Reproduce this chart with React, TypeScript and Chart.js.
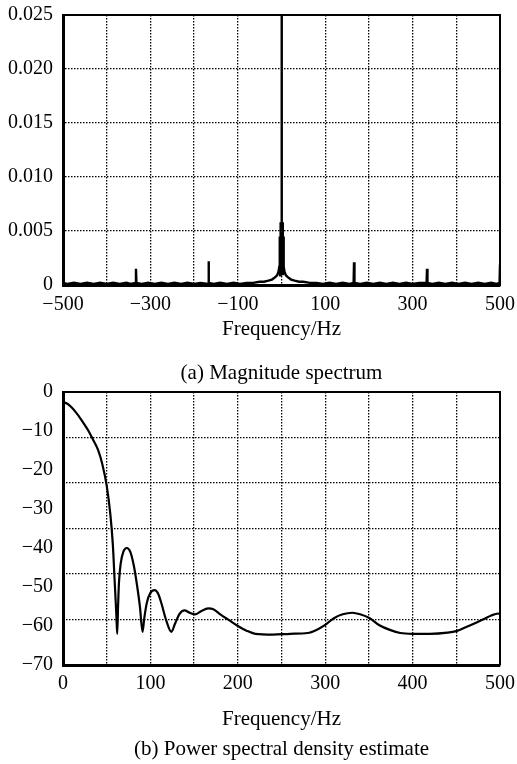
import React, { useEffect, useRef } from "react";
import { Chart, registerables } from "chart.js";

Chart.register(...registerables);

const FONT = "'Liberation Serif', 'Times New Roman', serif";

// (a) Magnitude spectrum: frequency (Hz) and magnitude
const magFreq = [
  -500, -490, -475, -460, -445, -430, -415, -400, -385, -370, -355, -345, -334, -333, -332,
  -320, -305, -290, -275, -260, -245, -230, -215, -200, -185, -168, -167, -166,
  -155, -140, -125, -110, -95, -80, -65, -50, -40, -30, -22, -15, -10, -7, -5, -4, -3, -2, -1,
  0,
  1, 2, 3, 4, 5, 7, 10, 15, 22, 30, 40, 50, 65, 80, 95, 110, 125, 140, 155,
  165, 166, 167, 180, 195, 210, 225, 240, 255, 270, 285, 300, 315, 332, 333, 334,
  345, 360, 375, 390, 405, 420, 435, 450, 465, 480, 492, 499, 500,
];
const magAmp = [
  0.0002, 0.0001, 0.0002, 0.0001, 0.0002, 0.0001, 0.0002, 0.0001, 0.0002, 0.0001, 0.0002, 0.0001, 0.0002, 0.0015, 0.0002,
  0.0001, 0.0002, 0.0001, 0.0002, 0.0001, 0.0002, 0.0001, 0.0002, 0.0001, 0.0002, 0.0001, 0.0022, 0.0002,
  0.0001, 0.0002, 0.0001, 0.0002, 0.0001, 0.0002, 0.0002, 0.0003, 0.0003, 0.0004, 0.0005, 0.0007, 0.0009, 0.0012, 0.0017, 0.0045, 0.0009, 0.0058, 0.0012,
  0.027,
  0.0012, 0.0058, 0.0009, 0.0045, 0.0017, 0.0012, 0.0009, 0.0007, 0.0005, 0.0004, 0.0003, 0.0003, 0.0002, 0.0002, 0.0001, 0.0002, 0.0001, 0.0002, 0.0001,
  0.0002, 0.0021, 0.0002, 0.0001, 0.0002, 0.0001, 0.0002, 0.0001, 0.0002, 0.0001, 0.0002, 0.0001, 0.0002, 0.0002, 0.0015, 0.0002,
  0.0001, 0.0002, 0.0001, 0.0002, 0.0001, 0.0002, 0.0001, 0.0002, 0.0001, 0.0002, 0.0001, 0.0002, 0.0019,
];
const magXLabels = [-500, -300, -100, 100, 300, 500];

// (b) Power spectral density estimate: frequency (Hz) and level (dB)
const psdFreq = [
  0, 5, 10, 15, 20, 25, 30, 35, 40, 45, 50, 54, 57, 59, 61, 62, 63, 64, 66, 69, 73, 77, 81, 85, 88, 91,
  93, 96, 100, 105, 109, 113, 118, 124, 128, 133, 139, 145, 151, 158, 166, 172, 180, 190, 200, 210,
  220, 240, 260, 280, 290, 300, 310, 320, 331, 340, 351, 362, 374, 386, 400, 420, 440, 450, 462, 472,
  481, 490, 498, 500,
];
const psdDb = [
  -2.6, -3.0, -4.0, -5.3, -6.8, -8.5, -10.3, -12.5, -14.8, -18.5, -24, -31, -39, -48, -57, -62, -55, -49, -44, -41, -40, -41, -44.5, -50, -55, -61.5,
  -58, -54, -51.5, -50.8, -51.8, -54.5, -58.5, -61.5, -59.5, -57, -56, -56.6, -57, -56.2, -55.5, -55.7, -57, -58.5, -60, -61.2,
  -62, -62.2, -62, -61.8, -61, -59.7, -58, -57, -56.6, -57, -58, -59.8, -61, -61.8, -62, -62, -61.7, -61.3, -60.2, -59.2,
  -58.3, -57.3, -56.8, -57,
];
const psdXLabels = [0, 100, 200, 300, 400, 500];
const psdYGrid = [0, -11.667, -23.333, -35, -46.667, -58.333, -70];

const minus = (v: number) => (v < 0 ? "\u2212" + Math.abs(v) : String(v));

const tickFont = { family: FONT, size: 20, weight: "normal" as const, lineHeight: 1.2 };
const DASH = [1.5, 1.5];
const GRID_W = 1.3;

const zeroPad = (s: any) => {
  s.paddingLeft = 0;
  s.paddingRight = 0;
  s.paddingTop = 0;
  s.paddingBottom = 0;
};

function hiddenX(min: number, max: number) {
  return {
    type: "linear",
    position: "top",
    min,
    max,
    ticks: { display: false },
    grid: { display: false, drawTicks: false },
    border: { color: "#000", width: 2 },
    afterFit: (s: any) => {
      s.height = 0;
      zeroPad(s);
    },
  };
}

function MagChart() {
  const ref = useRef<HTMLCanvasElement>(null);
  useEffect(() => {
    const chart = new Chart(ref.current!, {
      type: "line",
      data: {
        datasets: [
          {
            data: magFreq.map((f, i) => ({ x: f, y: magAmp[i] })),
            borderColor: "#000",
            borderWidth: 2.4,
            pointRadius: 0,
            tension: 0,
          },
        ],
      },
      options: {
        animation: false,
        responsive: false,
        events: [],
        layout: { padding: { top: 15, right: 17, left: 0, bottom: 0 } },
        plugins: {
          legend: { display: false },
          tooltip: { enabled: false },
          title: { display: false },
        },
        scales: {
          x: {
            type: "linear",
            position: "bottom",
            min: -500,
            max: 500,
            afterFit: (s: any) => {
              s.height = 115;
              zeroPad(s);
            },
            ticks: {
              stepSize: 100,
              autoSkip: false,
              maxRotation: 0,
              padding: 8,
              color: "#000",
              font: tickFont,
              callback: (v: any) => (magXLabels.includes(Number(v)) ? minus(Number(v)) : ""),
            },
            grid: { color: "#000", lineWidth: GRID_W, drawTicks: false },
            border: { color: "#000", width: 3, dash: DASH },
            title: {
              display: true,
              text: ["Frequency/Hz", "(a) Magnitude spectrum"],
              color: "#000",
              font: { family: FONT, size: 21, weight: "normal", lineHeight: 44 / 21 },
              padding: { top: 0, bottom: 5 },
            },
          },
          x2: hiddenX(-500, 500),
          y: {
            type: "linear",
            position: "left",
            min: 0,
            max: 0.025,
            afterFit: (s: any) => {
              s.width = 63;
              zeroPad(s);
            },
            ticks: {
              stepSize: 0.005,
              padding: 10,
              color: "#000",
              font: tickFont,
              callback: (v: any) => (Number(v) === 0 ? "0" : Number(v).toFixed(3)),
            },
            grid: { color: "#000", lineWidth: GRID_W, drawTicks: false },
            border: { color: "#000", width: 3, dash: DASH },
          },
          y2: {
            type: "linear",
            position: "right",
            min: 0,
            max: 0.025,
            ticks: { display: false },
            grid: { display: false, drawTicks: false },
            border: { color: "#000", width: 2 },
            afterFit: (s: any) => {
              s.width = 0;
              zeroPad(s);
            },
          },
        },
      } as any,
    });
    return () => chart.destroy();
  }, []);
  return (
    <canvas
      ref={ref}
      width={517}
      height={400}
      style={{ position: "absolute", left: 0, top: 0, width: 517, height: 400 }}
    />
  );
}

function PsdChart() {
  const ref = useRef<HTMLCanvasElement>(null);
  useEffect(() => {
    const chart = new Chart(ref.current!, {
      type: "line",
      data: {
        datasets: [
          {
            data: psdFreq.map((f, i) => ({ x: f, y: psdDb[i] })),
            borderColor: "#000",
            borderWidth: 2.2,
            pointRadius: 0,
            cubicInterpolationMode: "monotone",
          },
        ],
      },
      options: {
        animation: false,
        responsive: false,
        events: [],
        layout: { padding: { top: 20, right: 17, left: 0, bottom: 0 } },
        plugins: {
          legend: { display: false },
          tooltip: { enabled: false },
          title: { display: false },
        },
        scales: {
          x: {
            type: "linear",
            position: "bottom",
            min: 0,
            max: 500,
            afterFit: (s: any) => {
              s.height = 99;
              zeroPad(s);
            },
            ticks: {
              stepSize: 50,
              autoSkip: false,
              maxRotation: 0,
              padding: 7,
              color: "#000",
              font: tickFont,
              callback: (v: any) => (psdXLabels.includes(Number(v)) ? String(v) : ""),
            },
            grid: { color: "#000", lineWidth: GRID_W, drawTicks: false },
            border: { color: "#000", width: 3, dash: DASH },
            title: {
              display: true,
              text: ["Frequency/Hz", "(b) Power spectral density estimate"],
              color: "#000",
              font: { family: FONT, size: 21, weight: "normal", lineHeight: 30 / 21 },
              padding: { top: 0, bottom: 0 },
            },
          },
          x2: hiddenX(0, 500),
          y: {
            type: "linear",
            position: "left",
            min: -70,
            max: 0,
            afterFit: (s: any) => {
              s.width = 63;
              zeroPad(s);
            },
            ticks: {
              stepSize: 10,
              padding: 10,
              color: "#000",
              font: tickFont,
              callback: (v: any) => minus(Math.round(Number(v))),
            },
            grid: { display: false, drawTicks: false },
            border: { color: "#000", width: 3 },
          },
          y2: {
            type: "linear",
            position: "right",
            min: -70,
            max: 0,
            afterBuildTicks: (s: any) => {
              s.ticks = psdYGrid.map((v) => ({ value: v }));
            },
            ticks: { display: false },
            grid: { color: "#000", lineWidth: GRID_W, drawTicks: false },
            border: { color: "#000", width: 2, dash: DASH },
            afterFit: (s: any) => {
              s.width = 0;
              zeroPad(s);
            },
          },
        },
      } as any,
    });
    return () => chart.destroy();
  }, []);
  return (
    <canvas
      ref={ref}
      width={517}
      height={392}
      style={{ position: "absolute", left: 0, top: 372, width: 517, height: 392 }}
    />
  );
}

export default function App() {
  return (
    <div
      style={{
        position: "absolute",
        left: 0,
        top: 0,
        width: 517,
        height: 764,
        background: "#fff",
        overflow: "hidden",
      }}
    >
      <MagChart />
      <PsdChart />
    </div>
  );
}
